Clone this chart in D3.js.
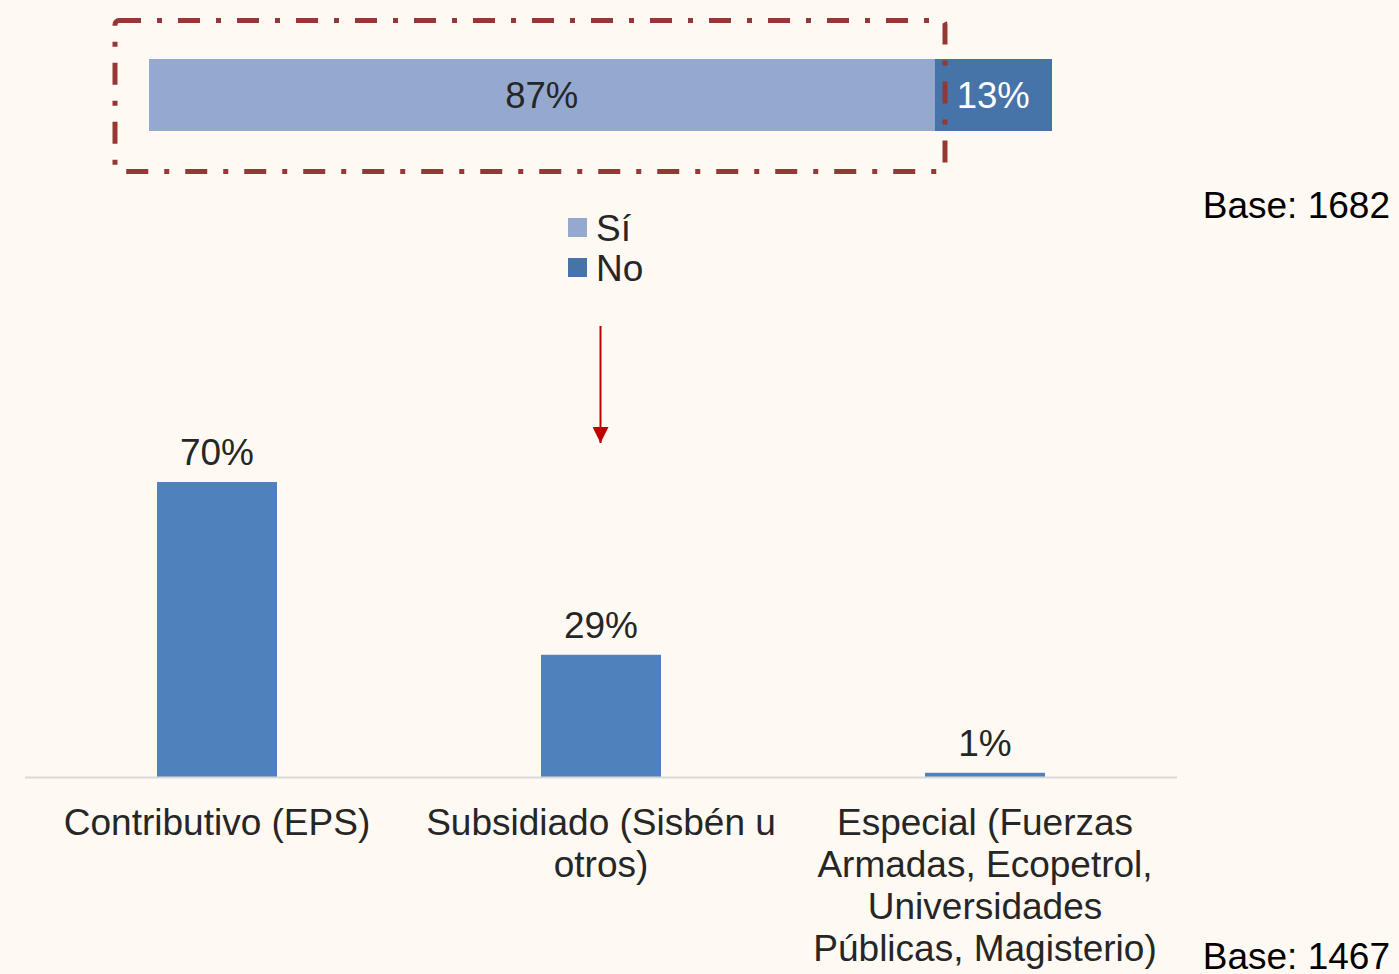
<!DOCTYPE html>
<html>
<head>
<meta charset="utf-8">
<script src="https://cdn.jsdelivr.net/npm/d3@7"></script>
<style>
  html, body { margin: 0; padding: 0; background: #fef9f3; }
  svg { display: block; }
  text { font-family: "Liberation Sans", Arial, sans-serif; }
</style>
</head>
<body>
<svg id="chart" width="1399" height="974"></svg>
<script>
// Datos
const topKeys = ["Sí", "No"];
const topValues = [87, 13];
const topColors = ["#95a9cf", "#4673a8"];

const categories = [
    ["Contributivo (EPS)"],
    ["Subsidiado (Sisbén u", "otros)"],
    ["Especial (Fuerzas", "Armadas, Ecopetrol,", "Universidades", "Públicas, Magisterio)"]
];
const values = [70, 29, 1];
const baseTop = "Base: 1682";
const baseBottom = "Base: 1467";

const svg = d3.select("#chart");
const textColor = "#262626";
const fontSize = "37px";

// Barra apilada superior
const xTop = d3.scaleLinear().domain([0, d3.sum(topValues)]).range([149, 1052]);
const stacked = [];
let acc = 0;
topValues.forEach((v, i) => {
    stacked.push({ key: topKeys[i], value: v, x0: acc, x1: acc + v, color: topColors[i] });
    acc += v;
});

const topBar = svg.append("g").attr("class", "top-bar");
topBar.selectAll("rect")
    .data(stacked)
    .enter().append("rect")
    .attr("x", d => xTop(d.x0))
    .attr("y", 59)
    .attr("width", d => xTop(d.x1) - xTop(d.x0))
    .attr("height", 72)
    .attr("fill", d => d.color);

topBar.selectAll("text")
    .data(stacked)
    .enter().append("text")
    .attr("x", d => (xTop(d.x0) + xTop(d.x1)) / 2)
    .attr("y", 95)
    .attr("dy", "0.35em")
    .attr("text-anchor", "middle")
    .style("font-size", "36.5px")
    .style("fill", (d, i) => i === 0 ? textColor : "#ffffff")
    .text(d => `${d.value}%`);

// Recuadro punteado
svg.append("rect")
    .attr("x", 115)
    .attr("y", 20.5)
    .attr("width", 830)
    .attr("height", 151)
    .attr("rx", 4)
    .attr("fill", "none")
    .attr("stroke", "#953735")
    .attr("stroke-width", 5)
    .attr("stroke-dasharray", "22,16,5,16");

// Leyenda
const legend = svg.append("g").attr("class", "legend")
    .selectAll("g")
    .data(topKeys)
    .enter().append("g")
    .attr("transform", (d, i) => `translate(568, ${218 + i * 40})`);
legend.append("rect")
    .attr("width", 19)
    .attr("height", 19)
    .attr("fill", (d, i) => topColors[i]);
legend.append("text")
    .attr("x", 28)
    .attr("y", 10)
    .attr("dy", "0.35em")
    .style("font-size", fontSize)
    .style("fill", textColor)
    .text(d => d);

// Flecha
svg.append("defs").append("marker")
    .attr("id", "arrow")
    .attr("viewBox", "0 -5 10 10")
    .attr("refX", 10)
    .attr("refY", 0)
    .attr("markerUnits", "userSpaceOnUse")
    .attr("markerWidth", 16)
    .attr("markerHeight", 16)
    .attr("orient", "auto")
    .append("path")
    .attr("d", "M0,-5L10,0L0,5Z")
    .attr("fill", "#c00000");
svg.append("line")
    .attr("x1", 600.5).attr("y1", 326)
    .attr("x2", 600.5).attr("y2", 443)
    .attr("stroke", "#c00000")
    .attr("stroke-width", 2)
    .attr("marker-end", "url(#arrow)");

// Columnas inferiores
const x = d3.scaleBand()
    .domain(d3.range(categories.length))
    .range([25, 1177])
    .paddingInner(0.6875)
    .paddingOuter(0.34375);
const y = d3.scaleLinear().domain([0, 100]).range([777, 777 - 421.4]);

svg.append("g").attr("class", "bars")
    .selectAll("rect")
    .data(values)
    .enter().append("rect")
    .attr("x", (d, i) => x(i))
    .attr("y", d => y(d))
    .attr("width", x.bandwidth())
    .attr("height", d => y(0) - y(d))
    .attr("fill", "#4f81bd");

svg.append("g").attr("class", "bar-labels")
    .selectAll("text")
    .data(values)
    .enter().append("text")
    .attr("x", (d, i) => x(i) + x.bandwidth() / 2)
    .attr("y", d => y(d) - 17)
    .attr("text-anchor", "middle")
    .style("font-size", fontSize)
    .style("fill", textColor)
    .text(d => `${d}%`);

// Eje
svg.append("line")
    .attr("x1", 25).attr("x2", 1177)
    .attr("y1", 777.5).attr("y2", 777.5)
    .attr("stroke", "#d9d9d9")
    .attr("stroke-width", 2);

const catLabels = svg.append("g").attr("class", "cat-labels")
    .selectAll("text")
    .data(categories)
    .enter().append("text")
    .attr("text-anchor", "middle")
    .style("font-size", fontSize)
    .style("fill", textColor)
    .attr("transform", (d, i) => `translate(${x(i) + x.bandwidth() / 2}, 835)`);
catLabels.selectAll("tspan")
    .data(d => d)
    .enter().append("tspan")
    .attr("x", 0)
    .attr("y", (d, j) => j * 42)
    .text(d => d);

// Bases
svg.append("text")
    .attr("x", 1390).attr("y", 218)
    .attr("text-anchor", "end")
    .style("font-size", fontSize)
    .style("fill", "#000")
    .text(baseTop);
svg.append("text")
    .attr("x", 1390).attr("y", 969)
    .attr("text-anchor", "end")
    .style("font-size", fontSize)
    .style("fill", "#000")
    .text(baseBottom);
</script>
</body>
</html>
